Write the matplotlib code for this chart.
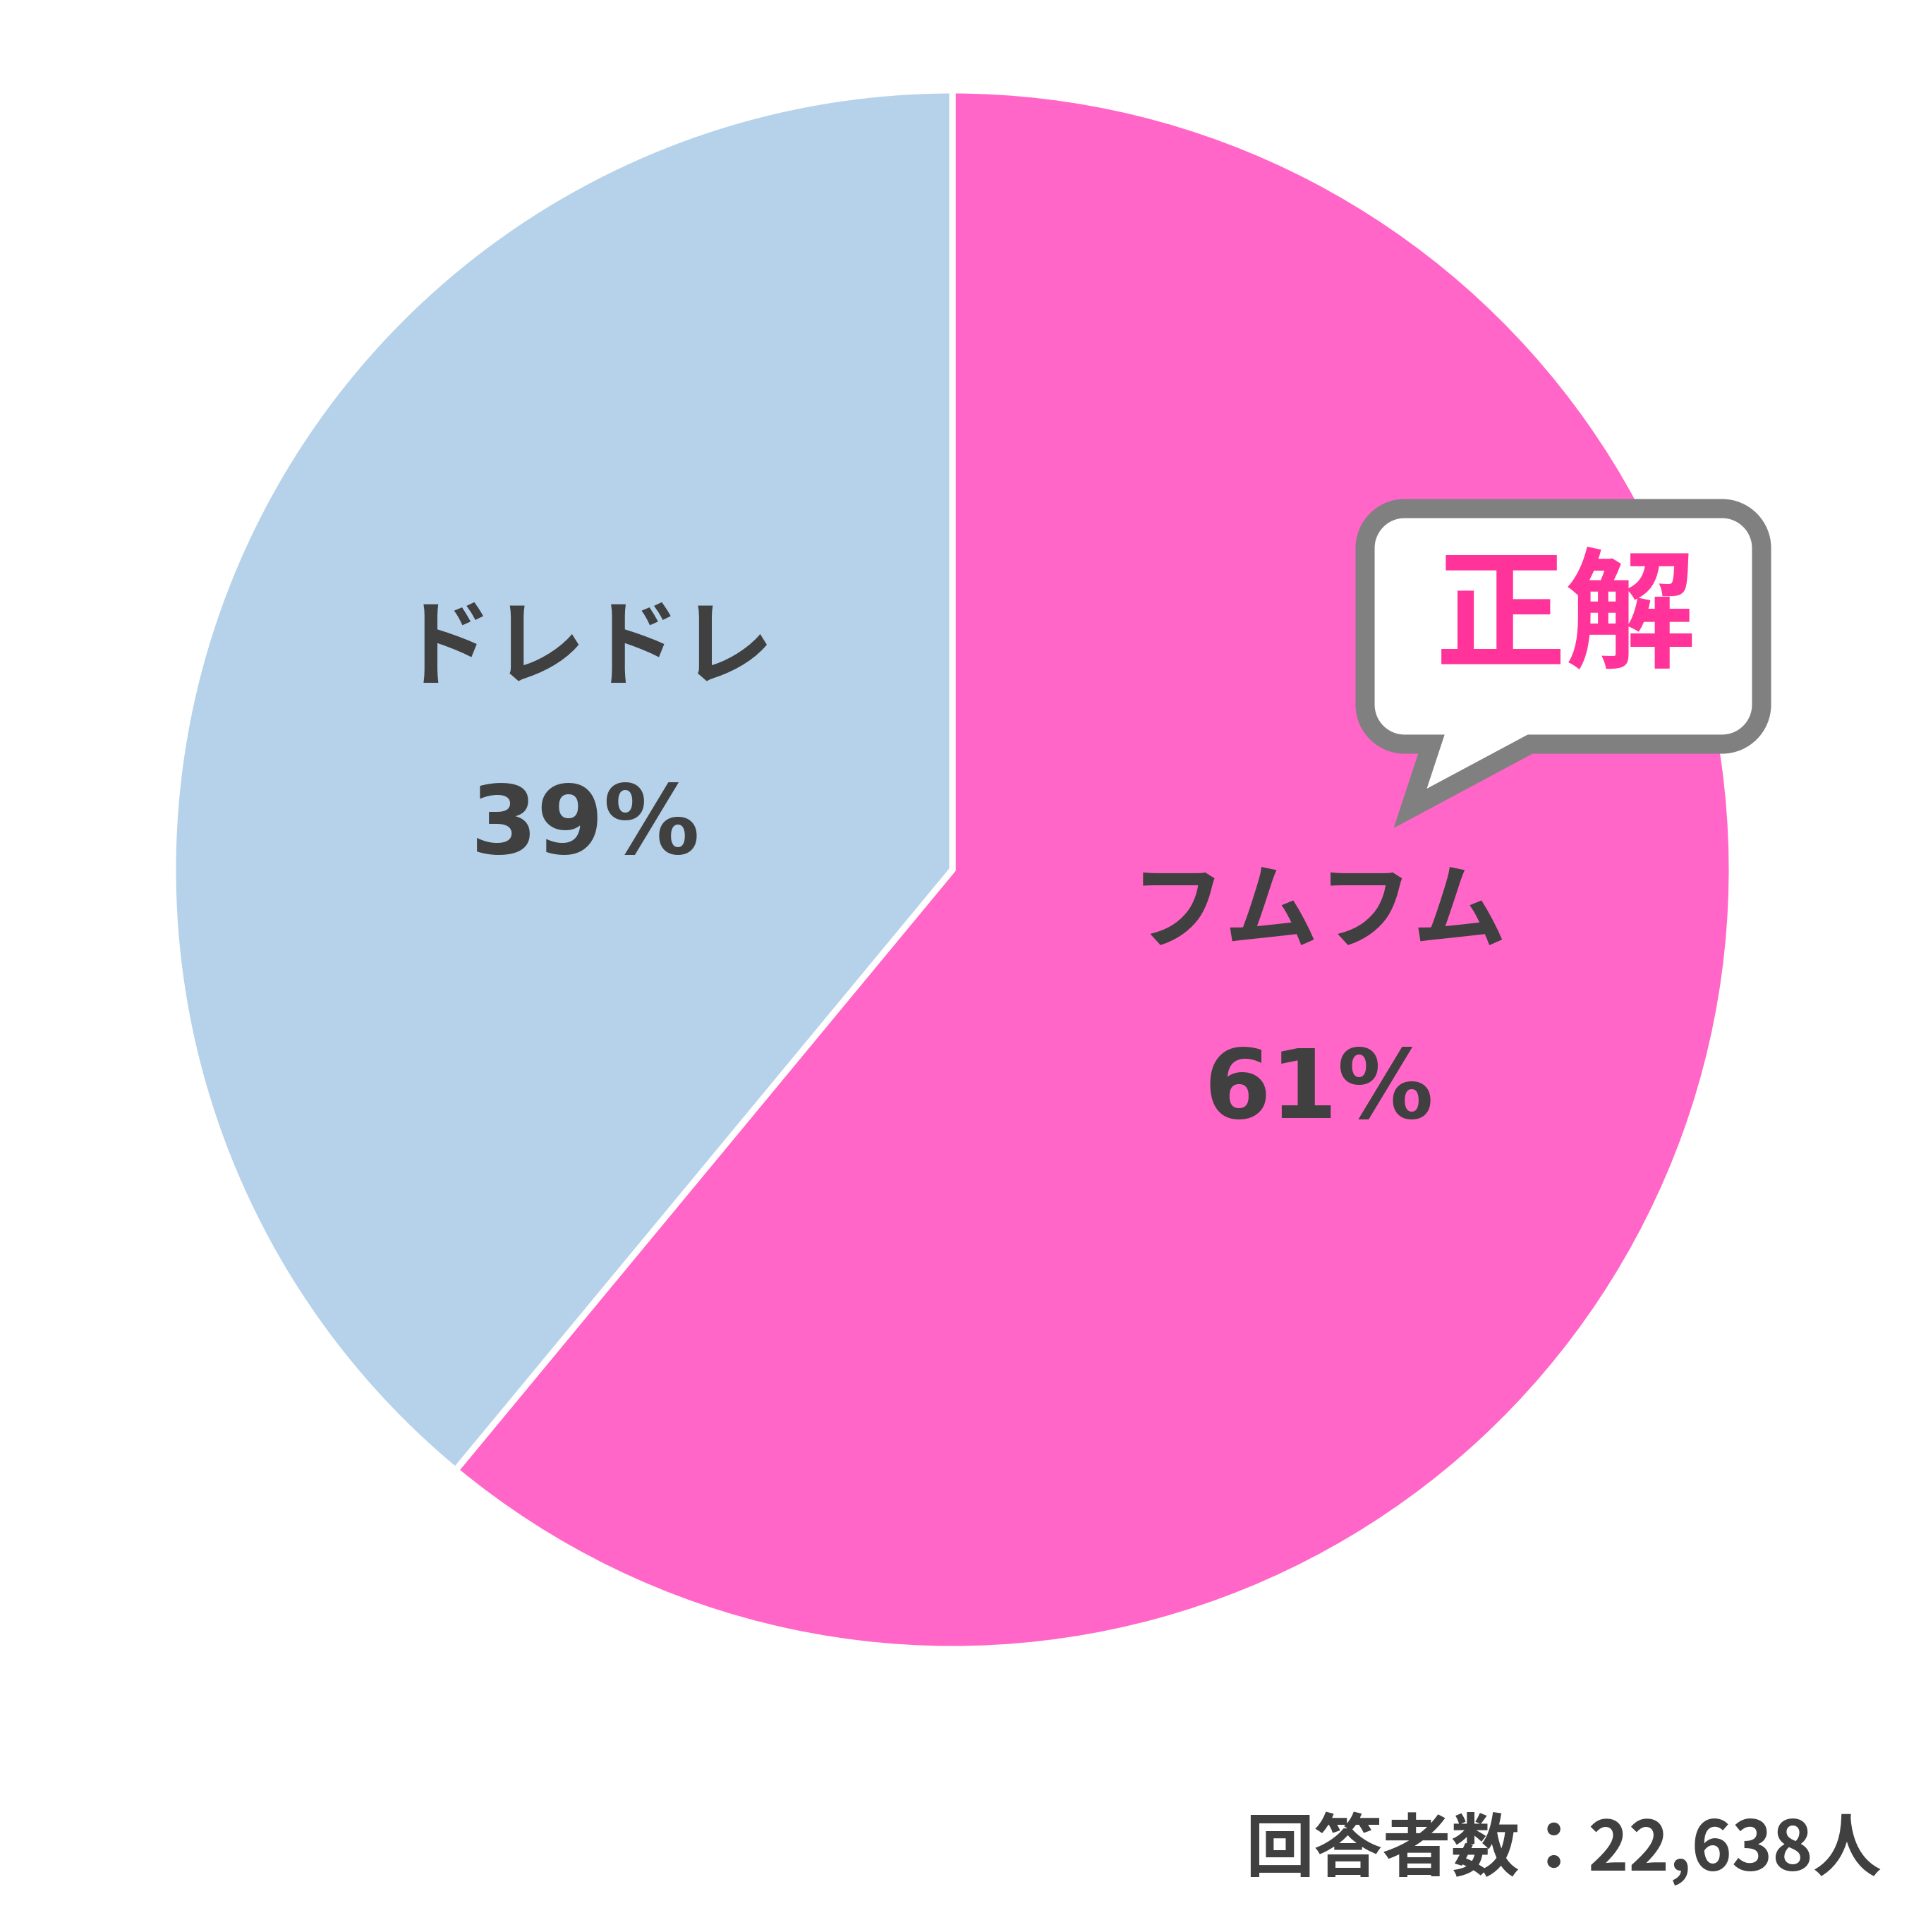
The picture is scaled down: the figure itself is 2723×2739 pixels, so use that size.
import matplotlib
matplotlib.use("Agg")
import matplotlib.pyplot as plt
from matplotlib.path import Path
from matplotlib.patches import PathPatch
import numpy as np

# ---- data ----
categories = ["フムフム", "ドレドレ"]
values = [61, 39]
pct_labels = ["61%", "39%"]
colors = ["#FF66C8", "#B5D2EA"]
badge_text = "正解"
respondents_text = "回答者数：22,638人"

W, H = 2723, 2739
DPI = 100
fig = plt.figure(figsize=(W / DPI, H / DPI), dpi=DPI)
ax = fig.add_axes([0, 0, 1, 1])

def Y(y):
    return H - y

cx, cy, R = 1350, 1233, 1105
wedges, _ = ax.pie(values, colors=colors, startangle=90, counterclock=False,
                   center=(cx, Y(cy)), radius=R,
                   wedgeprops=dict(edgecolor="white", linewidth=6.5))
ax.set_xlim(0, W)
ax.set_ylim(0, H)
ax.set_aspect("equal", adjustable="box")
ax.axis("off")

txt_color = "#404040"
jp_font = ["Noto Sans CJK JP", "DejaVu Sans"]
num_font = ["DejaVu Sans", "Noto Sans CJK JP"]
for w, cat, pct in zip(wedges, categories, pct_labels):
    mid = np.deg2rad((w.theta1 + w.theta2) / 2)
    px = cx + 0.5 * R * np.cos(mid)
    py = Y(cy) + 0.5 * R * np.sin(mid)
    ax.text(px, py + 125, cat, ha="center", va="center", fontsize=96,
            fontweight="bold", color=txt_color, family=jp_font)
    ax.text(px, py - 127, pct, ha="center", va="center", fontsize=98,
            fontweight="bold", color=txt_color, family=num_font)

# ---- speech bubble ----
L, Rt, T, B, r = 1935, 2497, 721, 1055, 56
k = 0.5523 * r
tail_r, tip, tail_l = (2169, B), (1999, 1146), (2029, B)
verts = [
    (L + r, T), (Rt - r, T),
    (Rt - r + k, T), (Rt, T + r - k), (Rt, T + r),
    (Rt, B - r),
    (Rt, B - r + k), (Rt - r + k, B), (Rt - r, B),
    tail_r, tip, tail_l,
    (L + r, B),
    (L + r - k, B), (L, B - r + k), (L, B - r),
    (L, T + r),
    (L, T + r - k), (L + r - k, T), (L + r, T),
    (L + r, T),
]
codes = [Path.MOVETO, Path.LINETO,
         Path.CURVE4, Path.CURVE4, Path.CURVE4,
         Path.LINETO,
         Path.CURVE4, Path.CURVE4, Path.CURVE4,
         Path.LINETO, Path.LINETO, Path.LINETO,
         Path.LINETO,
         Path.CURVE4, Path.CURVE4, Path.CURVE4,
         Path.LINETO,
         Path.CURVE4, Path.CURVE4, Path.CURVE4,
         Path.CLOSEPOLY]
verts = [(x, Y(y)) for x, y in verts]
bubble = PathPatch(Path(verts, codes), facecolor="white", edgecolor="#808080",
                   linewidth=19.5, joinstyle="miter", zorder=5)
ax.add_patch(bubble)
ax.text(2220, Y(878), badge_text, ha="center", va="center", fontsize=133,
        fontweight="bold", color="#FF3399", family=jp_font, zorder=6)

ax.text(2667, Y(2621), respondents_text, ha="right", va="center", fontsize=70,
        fontweight="bold", color=txt_color, family=jp_font)

fig.savefig("out.png", dpi=DPI, facecolor="white")
